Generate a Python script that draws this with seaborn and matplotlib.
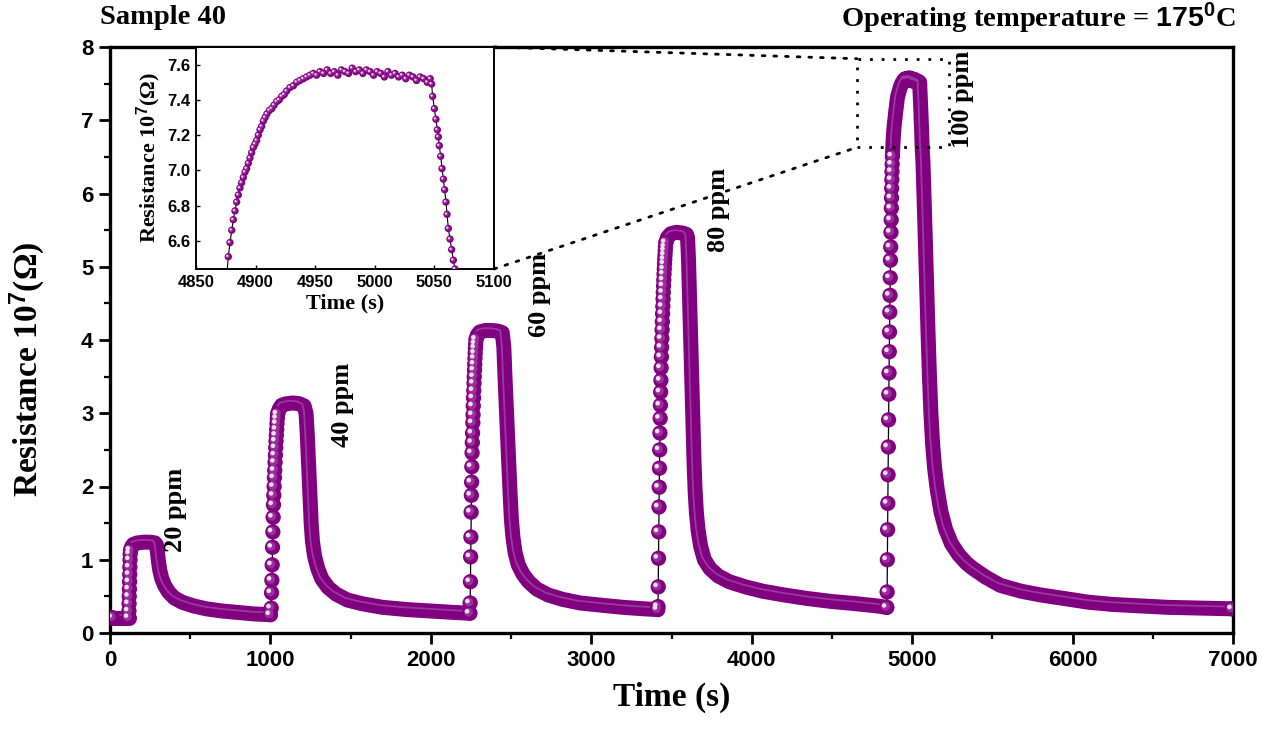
import matplotlib
matplotlib.use("Agg")
import matplotlib.pyplot as plt
import numpy as np
import pandas as pd
import seaborn as sns
from matplotlib.patches import Rectangle, ConnectionPatch
from matplotlib.transforms import offset_copy
from matplotlib.ticker import MultipleLocator

# ---------------- data ----------------
base0_t = [15, 40, 65, 90, 110, 117]
base0_r = [0.21, 0.21, 0.21, 0.21, 0.21, 0.21]

rise20_t = [118, 119, 120, 121, 122, 123, 124, 125, 126]
rise20_r = [0.30, 0.40, 0.50, 0.60, 0.70, 0.80, 0.90, 1.00, 1.08]
band20_t = [128, 135, 145, 170, 210, 250, 280, 290, 296, 302, 310, 322, 340,
            365, 400, 450, 520, 600, 700, 800, 900, 1000]
band20_r = [1.13, 1.18, 1.21, 1.23, 1.24, 1.24, 1.23, 1.20, 1.10, 0.98, 0.86,
            0.75, 0.65, 0.56, 0.48, 0.42, 0.37, 0.33, 0.30, 0.28, 0.26, 0.25]

rise40_t = [1005, 1007, 1009, 1011, 1013, 1015, 1017, 1019, 1021, 1023,
            1025, 1027, 1029, 1031, 1033, 1035, 1037, 1039, 1041, 1043]
rise40_r = [0.34, 0.55, 0.72, 0.93, 1.17, 1.38, 1.58, 1.75, 1.88, 2.00,
            2.12, 2.22, 2.33, 2.43, 2.53, 2.62, 2.70, 2.78, 2.86, 2.93]
band40_t = [1045, 1055, 1070, 1100, 1140, 1180, 1210, 1222, 1230, 1238,
            1246, 1254, 1262, 1275, 1295, 1320, 1360, 1410, 1480, 1570,
            1700, 1850, 2000, 2150, 2243]
band40_r = [2.99, 3.06, 3.11, 3.13, 3.14, 3.13, 3.10, 3.00, 2.70, 2.30,
            1.90, 1.50, 1.25, 1.05, 0.88, 0.74, 0.62, 0.53, 0.45, 0.40,
            0.35, 0.32, 0.30, 0.28, 0.27]

rise60_t = [2245, 2246.5, 2248, 2249.5, 2251, 2252.5, 2254, 2255.5, 2257, 2258.5,
            2260, 2261.5, 2263, 2264.5, 2266, 2267.5, 2269, 2270.5, 2272, 2273.5,
            2275, 2276.5, 2278, 2279.5]
rise60_r = [0.41, 0.70, 1.04, 1.31, 1.65, 1.88, 2.06, 2.27, 2.46, 2.60,
            2.73, 2.87, 2.98, 3.10, 3.21, 3.31, 3.41, 3.50, 3.59, 3.67,
            3.75, 3.82, 3.89, 3.95]
band60_t = [2282, 2290, 2305, 2340, 2380, 2420, 2445, 2455, 2462, 2470,
            2478, 2486, 2494, 2502, 2512, 2525, 2545, 2575, 2610, 2660,
            2730, 2820, 2930, 3060, 3200, 3330, 3414]
band60_r = [4.01, 4.07, 4.11, 4.13, 4.13, 4.12, 4.10, 3.90, 3.50, 3.10,
            2.70, 2.30, 1.90, 1.55, 1.30, 1.10, 0.93, 0.80, 0.70, 0.60,
            0.52, 0.46, 0.41, 0.38, 0.35, 0.33, 0.32]

rise80_t = [3416, 3417.5, 3419, 3420.5, 3422, 3423.5, 3425, 3426.5, 3428, 3429.5,
            3431, 3432.5, 3434, 3435.5, 3437, 3438.5, 3440, 3441.5, 3443, 3444.5,
            3446, 3447.5, 3449, 3450.5, 3452, 3453.5, 3455, 3456.5, 3458, 3459.5,
            3461, 3462.5]
rise80_r = [0.36, 0.63, 1.02, 1.38, 1.72, 1.99, 2.25, 2.50, 2.73, 2.93,
            3.11, 3.29, 3.45, 3.62, 3.77, 3.90, 4.02, 4.14, 4.25, 4.36,
            4.46, 4.56, 4.65, 4.74, 4.82, 4.90, 4.97, 5.04, 5.10, 5.16,
            5.22, 5.27]
band80_t = [3465, 3475, 3495, 3530, 3570, 3594, 3600, 3606, 3611, 3616,
            3621, 3626, 3631, 3636, 3641, 3647, 3655, 3666, 3682, 3705,
            3740, 3790, 3860, 3960, 4070, 4200, 4350, 4500, 4650, 4780, 4842]
band80_r = [5.33, 5.40, 5.45, 5.47, 5.46, 5.44, 5.40, 5.10, 4.70, 4.30,
            3.90, 3.50, 3.10, 2.70, 2.30, 1.95, 1.65, 1.40, 1.18, 1.00,
            0.88, 0.78, 0.70, 0.63, 0.57, 0.52, 0.47, 0.43, 0.40, 0.37, 0.35]

rise100_t = [4844, 4845.5, 4847, 4848.5, 4850, 4851.5, 4853, 4854.5, 4856, 4857.5,
             4859, 4860.5, 4862, 4863.5, 4865, 4866.5, 4868, 4869.5, 4870.5, 4871.5,
             4872.5, 4873.5, 4874.5, 4875.7]
rise100_r = [0.56, 1.00, 1.41, 1.77, 2.16, 2.54, 2.91, 3.26, 3.55, 3.84,
             4.11, 4.38, 4.61, 4.85, 5.09, 5.27, 5.47, 5.64, 5.80, 5.94,
             6.07, 6.19, 6.30, 6.40]
# top of the 100 ppm pulse (also shown in the inset)
peak100_t = [4877.1, 4878.5, 4880.0, 4881.3, 4882.7, 4884.1, 4885.5, 4886.9, 4888.3, 4889.7,
             4891.1, 4892.5, 4893.9, 4895.3, 4896.7, 4898.1, 4899.5, 4900.9, 4902.3, 4903.7,
             4905.1, 4906.5, 4908.0, 4909.5, 4911.5, 4913.5, 4915.5, 4917.7, 4919.8, 4921.9,
             4924.0, 4926.0, 4928.8, 4931.7, 4934.5, 4937.2, 4940.0, 4942.8, 4945.6, 4948.4,
             4951.2, 4954.0, 4957, 4960, 4963, 4966, 4969, 4972, 4975, 4978,
             4981, 4984, 4987, 4990, 4993, 4996, 4999, 5002, 5005, 5008,
             5011, 5014, 5017, 5020, 5023, 5026, 5029, 5032, 5035, 5038,
             5041, 5044, 5046.5, 5047.7,
             5048.5, 5050.0, 5051.3, 5052.5, 5053.3, 5054.1, 5055.3, 5056.4, 5057.5, 5058.6,
             5059.7, 5060.6, 5061.7, 5063.1, 5064.5, 5065.9, 5067.3]
peak100_r = [6.51, 6.59, 6.66, 6.72, 6.77, 6.82, 6.86, 6.90, 6.93, 6.96,
             6.99, 7.01, 7.04, 7.07, 7.10, 7.13, 7.15, 7.17, 7.20, 7.23,
             7.25, 7.28, 7.30, 7.32, 7.34, 7.35, 7.37, 7.39, 7.40, 7.42,
             7.43, 7.45, 7.47, 7.48, 7.50, 7.51, 7.52, 7.53, 7.54, 7.55,
             7.54, 7.56, 7.55, 7.57, 7.55, 7.56, 7.54, 7.57, 7.56, 7.55,
             7.58, 7.56, 7.57, 7.55, 7.57, 7.56, 7.54, 7.56, 7.55, 7.53,
             7.56, 7.54, 7.55, 7.53, 7.54, 7.52, 7.54, 7.53, 7.51, 7.53,
             7.52, 7.50, 7.52, 7.49,
             7.42, 7.35, 7.29, 7.23, 7.19, 7.14, 7.08, 7.01, 6.95, 6.89,
             6.82, 6.75, 6.67, 6.61, 6.55, 6.49, 6.44]
decay100_t = [5075, 5083, 5091, 5099, 5108, 5117, 5127, 5140, 5157, 5180,
              5208, 5245, 5290, 5340, 5380, 5460, 5550, 5680, 5800, 5950,
              6100, 6250, 6420, 6600, 6800, 6995]
decay100_r = [5.90, 5.30, 4.70, 4.10, 3.50, 3.00, 2.60, 2.25, 1.95, 1.65,
              1.42, 1.22, 1.07, 0.95, 0.88, 0.76, 0.65, 0.57, 0.52, 0.47,
              0.42, 0.39, 0.37, 0.35, 0.34, 0.33]

ppm_labels = ["20 ppm", "40 ppm", "60 ppm", "80 ppm", "100 ppm"]
ppm_label_t = [411, 1452, 2680, 3790, 5317]
ppm_label_r = [1.68, 3.11, 4.61, 5.77, 7.28]

x_ticks = [0, 1000, 2000, 3000, 4000, 5000, 6000, 7000]
y_ticks = [0, 1, 2, 3, 4, 5, 6, 7, 8]
inset_x_ticks = [4850, 4900, 4950, 5000, 5050, 5100]
inset_y_ticks = [6.6, 6.8, 7.0, 7.2, 7.4, 7.6]
zoom_box_t = [4656, 5230]
zoom_box_r = [6.63, 7.84]

# ---------------- style ----------------
sns.set_style("ticks")
plt.rcParams['font.family'] = ['Liberation Serif', 'DejaVu Serif']
plt.rcParams['mathtext.fontset'] = 'custom'
plt.rcParams['mathtext.rm'] = 'Liberation Serif'
plt.rcParams['mathtext.bf'] = 'Liberation Sans:bold'
plt.rcParams['mathtext.it'] = 'Liberation Serif:italic'
for k in ['text.color', 'axes.labelcolor', 'xtick.color', 'ytick.color',
          'axes.edgecolor']:
    plt.rcParams[k] = 'black'

PURPLE = '#800080'
HILITE = '#f3e0f3'
MID = '#9a2e9a'
W, H = 1273, 729
fig = plt.figure(figsize=(W / 100, H / 100), dpi=100)
ax = fig.add_axes([110 / W, (H - 633) / H, 1123 / W, 586 / H])

# ---------------- build frames ----------------
bands = [(base0_t, base0_r), (band20_t, band20_r), (band40_t, band40_r),
         (band60_t, band60_r), (band80_t, band80_r),
         (peak100_t + decay100_t, peak100_r + decay100_r)]
band_df = pd.concat([pd.DataFrame({'t': t, 'r': r, 'seg': i})
                     for i, (t, r) in enumerate(bands)], ignore_index=True)
rises = [(rise20_t, rise20_r), (rise40_t, rise40_r), (rise60_t, rise60_r),
         (rise80_t, rise80_r), (rise100_t, rise100_r)]
rise_df = pd.concat([pd.DataFrame({'t': t, 'r': r}) for t, r in rises],
                    ignore_index=True)
full_t = (base0_t + rise20_t + band20_t + rise40_t + band40_t + rise60_t + band60_t
          + rise80_t + band80_t + rise100_t + peak100_t + decay100_t)
full_r = (base0_r + rise20_r + band20_r + rise40_r + band40_r + rise60_r + band60_r
          + rise80_r + band80_r + rise100_r + peak100_r + decay100_r)
full_df = pd.DataFrame({'t': full_t, 'r': full_r})
ends_df = pd.concat([pd.DataFrame({'t': [t[0], t[-1]], 'r': [r[0], r[-1]]})
                     for t, r in bands], ignore_index=True)


def spheres(axis, df, size, dx, dy, z=4):
    sns.scatterplot(data=df, x='t', y='r', s=size, color=PURPLE, edgecolor='none',
                    linewidth=0, ax=axis, zorder=z, legend=False)
    sns.scatterplot(data=df, x='t', y='r', s=size * 0.35, color=MID, edgecolor='none',
                    linewidth=0, ax=axis, zorder=z + 0.1, legend=False)
    c = axis.collections[-1]
    c.set_offset_transform(offset_copy(axis.transData, fig=fig, x=-dx * 0.5, y=dy * 0.5,
                                       units='points'))
    sns.scatterplot(data=df, x='t', y='r', s=size * 0.09, color=HILITE, edgecolor='none',
                    linewidth=0, ax=axis, zorder=z + 0.2, legend=False)
    c = axis.collections[-1]
    c.set_offset_transform(offset_copy(axis.transData, fig=fig, x=-dx, y=dy,
                                       units='points'))


# thin black connecting line
sns.lineplot(data=full_df, x='t', y='r', sort=False, estimator=None, color='black',
             linewidth=0.9, ax=ax, zorder=2)
# thick band made of overlapping symbols
sns.lineplot(data=band_df, x='t', y='r', units='seg', estimator=None, sort=False,
             color=PURPLE, linewidth=10.8, solid_capstyle='round',
             solid_joinstyle='round', ax=ax, zorder=3, legend=False)
n0 = len(ax.lines)
sns.lineplot(data=band_df, x='t', y='r', units='seg', estimator=None, sort=False,
             color='#9a3a9e', linewidth=1.3, solid_capstyle='round', ax=ax,
             zorder=3.2, legend=False)
for ln in ax.lines[n0:]:
    ln.set_transform(offset_copy(ax.transData, fig=fig, x=-1.5, y=1.6, units='points'))
spheres(ax, rise_df, 121, 2.0, 1.4)
spheres(ax, ends_df, 121, 2.0, 1.4)

ax.set_xlim(0, 7000)
ax.set_ylim(0, 8)
ax.set_xticks(x_ticks, [str(v) for v in x_ticks], fontfamily='Liberation Sans',
              fontweight='bold', fontsize=16)
ax.set_yticks(y_ticks, [str(v) for v in y_ticks], fontfamily='Liberation Sans',
              fontweight='bold', fontsize=16)
ax.xaxis.set_minor_locator(MultipleLocator(500))
ax.yaxis.set_minor_locator(MultipleLocator(0.5))
ax.tick_params(which='major', direction='out', length=8, width=2, pad=4)
ax.tick_params(which='minor', direction='out', length=4, width=1.6)
for sp in ax.spines.values():
    sp.set_visible(True)
    sp.set_linewidth(2.4)
    sp.set_color('black')
ax.set_xlabel("Time (s)", fontsize=24, fontweight='bold', labelpad=8)
ax.set_ylabel(r"Resistance 10$^{\mathbf{7}}$(Ω)", fontsize=24, fontweight='bold')
ax.yaxis.set_label_coords(-0.056, 0.45)

for lab, t, r in zip(ppm_labels, ppm_label_t, ppm_label_r):
    ax.text(t, r, lab, rotation=90, ha='center', va='center', fontsize=19,
            fontweight='bold', zorder=6)

fig.text(100 / W, 1 - 18 / H, "Sample 40", ha='left', va='center', fontsize=20.5,
         fontweight='bold')
fig.text(1236 / W, 1 - 18 / H, r"Operating temperature = $\mathbf{175^{0}}$C",
         ha='right', va='center', fontsize=20.5, fontweight='bold')

# zoom box and connectors
ax.add_patch(Rectangle((zoom_box_t[0], zoom_box_r[0]), zoom_box_t[1] - zoom_box_t[0],
                       zoom_box_r[1] - zoom_box_r[0], fill=False, edgecolor='black',
                       linewidth=2, linestyle=(0, (1, 3.2)), zorder=7))

# ---------------- inset ----------------
ins = fig.add_axes([196 / W, (H - 269) / H, 298 / W, 222 / H])
ins.set_facecolor('white')
ins_line = pd.DataFrame({'t': rise100_t + peak100_t + decay100_t,
                         'r': rise100_r + peak100_r + decay100_r})
ins_pts = pd.DataFrame({'t': rise100_t + peak100_t, 'r': rise100_r + peak100_r})
sns.lineplot(data=ins_line, x='t', y='r', sort=False, estimator=None, color='black',
             linewidth=0.8, ax=ins, zorder=2)
spheres(ins, ins_pts, 28, 0.8, 0.6)
ins.set_xlim(4850, 5100)
ins.set_ylim(6.44, 7.70)
ins.set_xticks(inset_x_ticks, [str(v) for v in inset_x_ticks],
               fontfamily='Liberation Sans', fontweight='bold', fontsize=12)
ins.set_yticks(inset_y_ticks, [f"{v:.1f}" for v in inset_y_ticks],
               fontfamily='Liberation Sans', fontweight='bold', fontsize=12)
ins.tick_params(direction='in', length=3, width=1, pad=4)
for sp in ins.spines.values():
    sp.set_visible(True)
    sp.set_linewidth(1.4)
    sp.set_color('black')
ins.set_xlabel("Time (s)", fontsize=16, fontweight='bold', labelpad=3)
ins.set_ylabel(r"Resistance 10$^{\mathbf{7}}$(Ω)", fontsize=16, fontweight='bold',
               labelpad=3)

for xa, ya in [((1, 1), (zoom_box_t[0], zoom_box_r[1])),
               ((1, 0), (zoom_box_t[0], zoom_box_r[0]))]:
    cp = ConnectionPatch(xyA=xa, coordsA=ins.transAxes, xyB=ya, coordsB=ax.transData,
                         color='black', linewidth=2, linestyle=(0, (1, 3.2)))
    fig.add_artist(cp)

fig.savefig("out.png", dpi=100)
